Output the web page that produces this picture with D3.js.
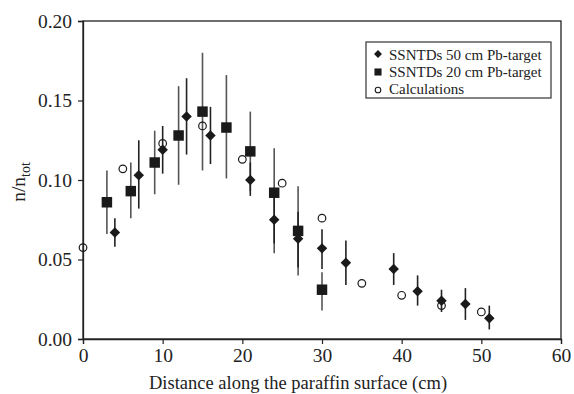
<!DOCTYPE html>
<html>
<head>
<meta charset="utf-8">
<script src="https://cdn.jsdelivr.net/npm/d3@7"></script>
<style>
  body { margin: 0; background: #fff; }
</style>
</head>
<body>
<div id="chart"></div>
<script>
const width = 574
const height = 394
const FONT = "'Liberation Serif', 'Times New Roman', 'DejaVu Serif', serif"

// SSNTDs 50 cm Pb-target (diamonds)
const d50x = [4, 7, 10, 13, 16, 21, 24, 27, 30, 33, 39, 42, 45, 48, 51]
const d50y = [0.067, 0.103, 0.119, 0.140, 0.128, 0.100, 0.075, 0.063, 0.057, 0.048, 0.044, 0.030, 0.024, 0.022, 0.013]
const d50lo = [0.058, 0.082, 0.104, 0.116, 0.110, 0.090, 0.060, 0.045, 0.044, 0.034, 0.034, 0.021, 0.017, 0.012, 0.006]
const d50hi = [0.076, 0.125, 0.134, 0.164, 0.146, 0.111, 0.090, 0.080, 0.069, 0.062, 0.054, 0.040, 0.031, 0.032, 0.021]

// SSNTDs 20 cm Pb-target (squares)
const d20x = [3, 6, 9, 12, 15, 18, 21, 24, 27, 30]
const d20y = [0.086, 0.093, 0.111, 0.128, 0.143, 0.133, 0.118, 0.092, 0.068, 0.031]
const d20lo = [0.066, 0.076, 0.091, 0.097, 0.106, 0.101, 0.093, 0.054, 0.040, 0.018]
const d20hi = [0.106, 0.111, 0.131, 0.159, 0.180, 0.166, 0.143, 0.120, 0.096, 0.042]

// Calculations (open circles)
const calcX = [0, 5, 10, 15, 20, 25, 30, 35, 40, 45, 50]
const calcY = [0.0575, 0.107, 0.123, 0.134, 0.113, 0.098, 0.076, 0.035, 0.0275, 0.021, 0.017]

const xTicks = [0, 10, 20, 30, 40, 50, 60]
const yTicks = [0, 0.05, 0.10, 0.15, 0.20]

const margin = {left: 83, right: 13, top: 21, bottom: 55}

const svg = d3.select("#chart")
  .append("svg")
    .attr("width", width)
    .attr("height", height)
    .attr("font-family", FONT)

const x = d3.scaleLinear().domain([0, 60]).range([margin.left, width - margin.right])
const y = d3.scaleLinear().domain([0, 0.20]).range([height - margin.bottom, margin.top])

// frame
svg.append("rect")
  .attr("x", x(0)).attr("y", y(0.20))
  .attr("width", x(60) - x(0)).attr("height", y(0) - y(0.20))
  .attr("fill", "none").attr("stroke", "#222").attr("stroke-width", 1.3)

const xAxis = svg.append("g")
  .attr("transform", `translate(0,${y(0)})`)
  .call(d3.axisBottom(x).tickValues(xTicks).tickSize(5).tickPadding(4).tickFormat(d3.format("d")))
const yAxis = svg.append("g")
  .attr("transform", `translate(${x(0)},0)`)
  .call(d3.axisLeft(y).tickValues(yTicks).tickSize(5).tickPadding(6).tickFormat(d3.format(".2f")))

for (const ax of [xAxis, yAxis]) {
  ax.attr("font-family", FONT).attr("font-size", 19.5)
  ax.select(".domain").attr("stroke", "#222").attr("stroke-width", 1.3)
  ax.selectAll(".tick line").attr("stroke", "#222").attr("stroke-width", 1.2)
  ax.selectAll(".tick text").attr("fill", "#222")
}

// axis titles
svg.append("text")
  .attr("x", (x(0) + x(60)) / 2 - 24)
  .attr("y", 389)
  .attr("text-anchor", "middle")
  .attr("font-size", 18.5)
  .attr("fill", "#222")
  .text("Distance along the paraffin surface (cm)")

const ylab = svg.append("text")
  .attr("transform", `translate(25,${y(0.10) + 2}) rotate(-90)`)
  .attr("text-anchor", "middle")
  .attr("font-size", 19.5)
  .attr("fill", "#222")
ylab.append("tspan").text("n/n")
ylab.append("tspan").attr("font-size", 14).attr("dy", 5).text("tot")

const sq = d20x.map((v, i) => ({x: v, y: d20y[i], lo: d20lo[i], hi: d20hi[i]}))
const dm = d50x.map((v, i) => ({x: v, y: d50y[i], lo: d50lo[i], hi: d50hi[i]}))
const cc = calcX.map((v, i) => ({x: v, y: calcY[i]}))

// error bars
svg.append("g").selectAll("line")
  .data(sq)
  .join("line")
    .attr("x1", d => x(d.x)).attr("x2", d => x(d.x))
    .attr("y1", d => y(d.lo)).attr("y2", d => y(d.hi))
    .attr("stroke", "#555").attr("stroke-width", 1.6)

svg.append("g").selectAll("line")
  .data(dm)
  .join("line")
    .attr("x1", d => x(d.x)).attr("x2", d => x(d.x))
    .attr("y1", d => y(d.lo)).attr("y2", d => y(d.hi))
    .attr("stroke", "#222").attr("stroke-width", 1.6)

const diamond = d3.symbol().type(d3.symbolDiamond2).size(70)
const square = d3.symbol().type(d3.symbolSquare).size(110)

svg.append("g").selectAll("path")
  .data(sq)
  .join("path")
    .attr("d", square)
    .attr("transform", d => `translate(${x(d.x)},${y(d.y)})`)
    .attr("fill", "#1a1a1a")

svg.append("g").selectAll("path")
  .data(dm)
  .join("path")
    .attr("d", diamond)
    .attr("transform", d => `translate(${x(d.x)},${y(d.y)})`)
    .attr("fill", "#1a1a1a")

svg.append("g").selectAll("circle")
  .data(cc)
  .join("circle")
    .attr("cx", d => x(d.x))
    .attr("cy", d => y(d.y))
    .attr("r", 3.8)
    .attr("fill", "none")
    .attr("stroke", "#1a1a1a")
    .attr("stroke-width", 1.2)

// legend
const leg = svg.append("g").attr("transform", "translate(366,42)")
leg.append("rect")
  .attr("width", 185).attr("height", 56)
  .attr("fill", "#fff").attr("stroke", "#333").attr("stroke-width", 1.2)

const legItems = ["SSNTDs 50 cm Pb-target", "SSNTDs 20 cm Pb-target", "Calculations"]
legItems.forEach((t, i) => {
  const ly = 13 + i * 17
  if (i === 0) {
    leg.append("path").attr("d", d3.symbol().type(d3.symbolDiamond2).size(40))
      .attr("transform", `translate(12,${ly - 1})`).attr("fill", "#1a1a1a")
  } else if (i === 1) {
    leg.append("path").attr("d", d3.symbol().type(d3.symbolSquare).size(50))
      .attr("transform", `translate(12,${ly})`).attr("fill", "#1a1a1a")
  } else {
    leg.append("circle").attr("cx", 12).attr("cy", ly + 1).attr("r", 2.8)
      .attr("fill", "none").attr("stroke", "#1a1a1a").attr("stroke-width", 1.1)
  }
  leg.append("text")
    .attr("x", 23).attr("y", ly + 5)
    .attr("font-size", 15)
    .attr("fill", "#222")
    .text(t)
})
</script>
</body>
</html>
